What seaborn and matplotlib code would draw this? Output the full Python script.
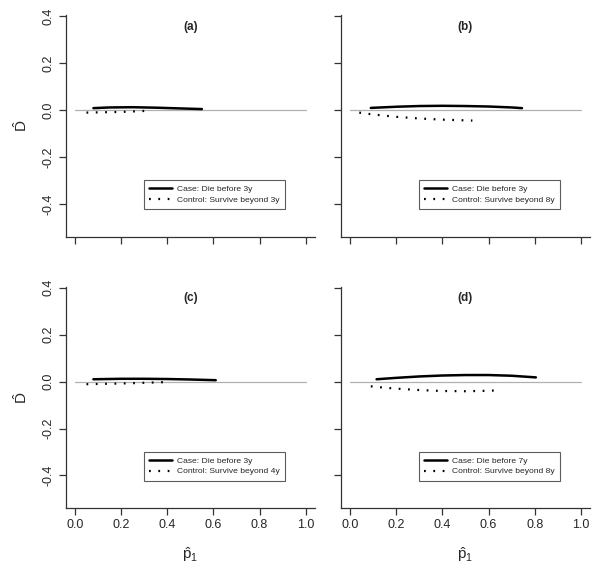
import numpy as np
import pandas as pd
import matplotlib
matplotlib.use("Agg")
import matplotlib.pyplot as plt
import seaborn as sns

sns.set_style("ticks")
plt.rcParams["font.family"] = ["Liberation Sans", "DejaVu Sans"]
plt.rcParams["mathtext.fontset"] = "custom"
plt.rcParams["mathtext.rm"] = "Liberation Sans"
plt.rcParams["mathtext.it"] = "Liberation Sans"

# ------------------------------------------------------------
# data (p1-hat vs D-hat)
# ------------------------------------------------------------
panel_tags = ["(a)", "(b)", "(c)", "(d)"]
case_labels = ["Case: Die before 3y", "Case: Die before 3y",
               "Case: Die before 3y", "Case: Die before 7y"]
ctrl_labels = ["Control: Survive beyond 3y", "Control: Survive beyond 8y",
               "Control: Survive beyond 4y", "Control: Survive beyond 8y"]

case_a_x = [0.08, 0.15, 0.25, 0.35, 0.45, 0.55]
case_a_y = [0.008, 0.011, 0.012, 0.010, 0.007, 0.004]
ctrl_a_x = [0.05, 0.10, 0.15, 0.20, 0.25, 0.30]
ctrl_a_y = [-0.011, -0.010, -0.009, -0.008, -0.006, -0.004]

case_b_x = [0.09, 0.2, 0.3, 0.4, 0.5, 0.6, 0.7, 0.745]
case_b_y = [0.009, 0.014, 0.017, 0.018, 0.017, 0.015, 0.011, 0.008]
ctrl_b_x = [0.04, 0.1, 0.2, 0.3, 0.4, 0.5, 0.53]
ctrl_b_y = [-0.011, -0.019, -0.029, -0.036, -0.041, -0.044, -0.045]

case_c_x = [0.08, 0.2, 0.3, 0.4, 0.5, 0.61]
case_c_y = [0.010, 0.012, 0.012, 0.011, 0.009, 0.006]
ctrl_c_x = [0.05, 0.1, 0.2, 0.3, 0.4]
ctrl_c_y = [-0.011, -0.010, -0.008, -0.005, -0.002]

case_d_x = [0.115, 0.2, 0.3, 0.4, 0.5, 0.6, 0.7, 0.805]
case_d_y = [0.010, 0.016, 0.022, 0.026, 0.028, 0.028, 0.025, 0.018]
ctrl_d_x = [0.09, 0.15, 0.2, 0.3, 0.4, 0.5, 0.6, 0.645]
ctrl_d_y = [-0.020, -0.026, -0.030, -0.036, -0.040, -0.041, -0.039, -0.037]

case_x = [case_a_x, case_b_x, case_c_x, case_d_x]
case_y = [case_a_y, case_b_y, case_c_y, case_d_y]
ctrl_x = [ctrl_a_x, ctrl_b_x, ctrl_c_x, ctrl_d_x]
ctrl_y = [ctrl_a_y, ctrl_b_y, ctrl_c_y, ctrl_d_y]

x_ticks = [0.0, 0.2, 0.4, 0.6, 0.8, 1.0]
y_ticks = [-0.4, -0.2, 0.0, 0.2, 0.4]

# ------------------------------------------------------------
# figure
# ------------------------------------------------------------
fig = plt.figure(figsize=(6.0, 5.69), dpi=100)
lefts = [0.1095, 0.568]
bottoms = [0.584, 0.1067]
w, h = 0.4155, 0.3896

axes = []
for r in range(2):
    for c in range(2):
        axes.append(fig.add_axes([lefts[c], bottoms[r], w, h]))

dot_style = (0, (0.8, 3.4))

for i, ax in enumerate(axes):
    row, col = divmod(i, 2)

    ax.plot([0, 1], [0, 0], color="#b0b0b0", lw=0.9, zorder=1)

    d_case = pd.DataFrame({"p1": case_x[i], "D": case_y[i]})
    d_ctrl = pd.DataFrame({"p1": ctrl_x[i], "D": ctrl_y[i]})
    sns.lineplot(data=d_case, x="p1", y="D", ax=ax, color="black",
                 lw=1.8, label=case_labels[i], zorder=3)
    sns.lineplot(data=d_ctrl, x="p1", y="D", ax=ax, color="black",
                 lw=1.6, linestyle=dot_style, label=ctrl_labels[i], zorder=3)

    ax.set_xlim(-0.04, 1.04)
    ax.set_ylim(-0.54, 0.405)
    ax.set_xticks(x_ticks)
    ax.set_yticks(y_ticks)
    ax.spines["top"].set_visible(False)
    ax.spines["right"].set_visible(False)
    for s in ["left", "bottom"]:
        ax.spines[s].set_color("#333333")
        ax.spines[s].set_linewidth(0.9)
    ax.tick_params(direction="out", length=5, width=0.9, color="#333333",
                   labelsize=9, pad=3)

    if row == 1:
        ax.set_xticklabels([f"{t:.1f}" for t in x_ticks])
        ax.set_xlabel(r"$\hat{\mathrm{p}}_1$", fontsize=11, labelpad=10)
    else:
        ax.set_xticklabels([])
        ax.set_xlabel("")
    if col == 0:
        ax.set_yticklabels([f"{t:.1f}" for t in y_ticks], rotation=90,
                           va="center")
        ax.set_ylabel(r"$\hat{\mathrm{D}}$", fontsize=11, labelpad=9)
    else:
        ax.set_yticklabels([])
        ax.set_ylabel("")

    ax.text(0.5, 0.355, panel_tags[i], transform=ax.transData,
            ha="center", va="center", fontsize=8.5, fontweight="bold")

    leg = ax.legend(loc="upper left", bbox_to_anchor=(0.30, -0.30),
                    bbox_transform=ax.transData, borderaxespad=0,
                    fontsize=6.1, frameon=True, fancybox=False,
                    handlelength=2.7, handletextpad=0.6, borderpad=0.6,
                    labelspacing=0.3)
    leg.get_frame().set_edgecolor("#333333")
    leg.get_frame().set_linewidth(0.8)

fig.savefig("out.png", dpi=100)
